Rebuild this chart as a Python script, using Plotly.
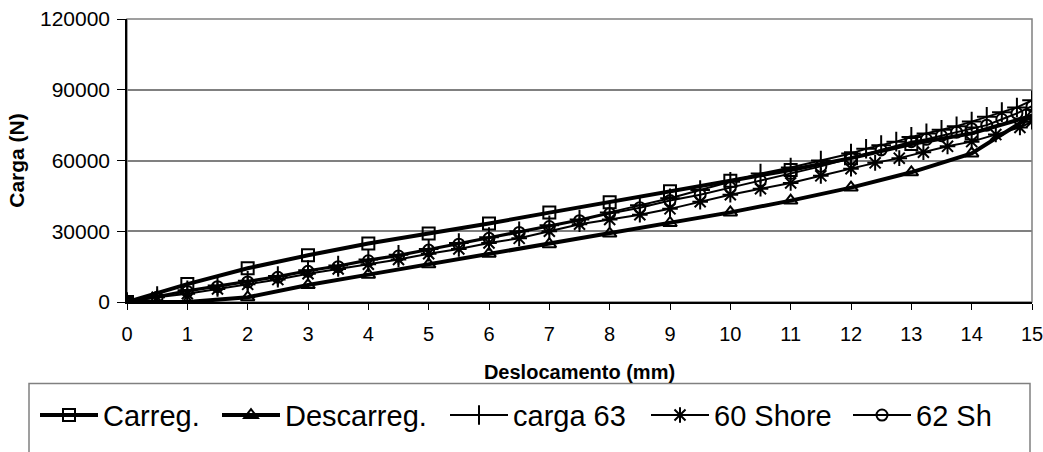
import plotly.graph_objects as go

# Data
x_carreg = [0, 1, 2, 3, 4, 5, 6, 7, 8, 9, 10, 11, 12, 13, 14, 15]
y_carreg = [0, 7600, 14300, 19800, 24800, 29000, 33300, 37900, 42300, 47000, 51400, 56000, 61000, 67000, 71500, 79000]

x_descarreg = [0, 1, 2, 3, 4, 5, 6, 7, 8, 9, 10, 11, 12, 13, 14, 15]
y_descarreg = [0, 0, 2000, 7200, 11600, 16000, 20500, 24500, 29000, 33500, 38000, 43000, 48500, 55000, 63000, 79000]

x_carga63 = [0, 0.5, 1, 1.5, 2, 2.5, 3, 3.5, 4, 4.5, 5, 5.5, 6, 6.5, 7, 7.5, 8, 8.5, 9, 9.5,
             10, 10.5, 11, 11.5, 12, 12.25, 12.5, 12.75, 13, 13.25, 13.5, 13.75, 14, 14.25, 14.5, 14.75, 15]
y_carga63 = [0, 2500, 5000, 7000, 9000, 11000, 13500, 15500, 18000, 20000, 22500, 25000, 27500, 30000,
             32500, 35000, 38000, 41000, 44000, 47500, 51000, 54500, 57000, 60000, 63000, 65000, 66500,
             68000, 70000, 71500, 73000, 74500, 76500, 78500, 80500, 82500, 85500]

x_60shore = [0, 0.5, 1, 1.5, 2, 2.5, 3, 3.5, 4, 4.5, 5, 5.5, 6, 6.5, 7, 7.5, 8, 8.5, 9, 9.5,
             10, 10.5, 11, 11.5, 12, 12.4, 12.8, 13.2, 13.6, 14, 14.4, 14.8, 15]
y_60shore = [0, 2000, 3500, 5500, 7500, 9500, 12000, 14000, 16000, 18000, 20500, 22500, 25000, 27000,
             30000, 33000, 35000, 37000, 39500, 42500, 45500, 48000, 50500, 53500, 56500, 59000, 61000,
             63500, 66000, 68000, 71000, 74000, 76500]

x_62sh = [0, 0.5, 1, 1.5, 2, 2.5, 3, 3.5, 4, 4.5, 5, 5.5, 6, 6.5, 7, 7.5, 8, 8.5, 9, 9.5,
          10, 10.5, 11, 11.5, 12, 12.5, 13, 13.25, 13.5, 13.75, 14, 14.25, 14.5, 14.75, 15]
y_62sh = [0, 2000, 4500, 6500, 8500, 10500, 13000, 15000, 17500, 19500, 22000, 24500, 27000, 29500,
          32000, 34500, 37500, 40000, 43000, 45500, 48500, 51500, 54500, 57500, 61000, 64500, 68000,
          69000, 70500, 72000, 73500, 75000, 77500, 80000, 83000]

FONT = "Liberation Sans, Arial, sans-serif"
ML, MR, MT, MB, W, H = 127, 11, 19, 148, 1043, 452
PW = W - ML - MR
PH = H - MT - MB


def px_x(p):
    return (p - ML) / PW


def px_y(p):
    return (H - MB - p) / PH


fig = go.Figure()
fig.add_trace(go.Scatter(x=x_carreg, y=y_carreg, name="Carreg.", mode="lines+markers", legend="legend",
                         line=dict(color="black", width=4),
                         marker=dict(symbol="square-open", size=12, color="black", line=dict(width=2))))
fig.add_trace(go.Scatter(x=x_descarreg, y=y_descarreg, name="Descarreg.", mode="lines+markers", legend="legend2",
                         line=dict(color="black", width=4),
                         marker=dict(symbol="triangle-up-open", size=12, color="black", line=dict(width=2))))
fig.add_trace(go.Scatter(x=x_carga63, y=y_carga63, name="carga 63", mode="lines+markers", legend="legend3",
                         line=dict(color="black", width=2),
                         marker=dict(symbol="cross-thin-open", size=14, color="black", line=dict(width=2))))
fig.add_trace(go.Scatter(x=x_60shore, y=y_60shore, name="60 Shore", mode="lines+markers", legend="legend4",
                         line=dict(color="black", width=2),
                         marker=dict(symbol="asterisk-open", size=13, color="black", line=dict(width=2))))
fig.add_trace(go.Scatter(x=x_62sh, y=y_62sh, name="62 Sh", mode="lines+markers", legend="legend5",
                         line=dict(color="black", width=2),
                         marker=dict(symbol="circle-open", size=11, color="black", line=dict(width=2))))

# plot area border (gray) and legend box
fig.add_shape(type="rect", xref="paper", yref="paper", x0=0, x1=1, y0=0, y1=1,
              line=dict(color="#808080", width=1.5), layer="below")
fig.add_shape(type="rect", xref="paper", yref="paper", x0=px_x(29), x1=px_x(1030), y0=px_y(386), y1=px_y(470),
              line=dict(color="#808080", width=1.5), fillcolor="white", layer="below")

legend_starts = [41, 223, 451, 652, 854]
legend_common = dict(orientation="h", xanchor="left", y=px_y(418), yanchor="middle",
                     font=dict(size=29, family=FONT), bgcolor="rgba(0,0,0,0)", borderwidth=0,
                     itemwidth=58)
layout_legends = {}
for i, s in enumerate(legend_starts):
    key = "legend" if i == 0 else f"legend{i + 1}"
    layout_legends[key] = dict(x=px_x(s - 6), **legend_common)

fig.update_layout(
    width=W, height=H,
    margin=dict(l=ML, r=MR, t=MT, b=MB),
    paper_bgcolor="white", plot_bgcolor="white",
    font=dict(family=FONT, color="black", size=20),
    showlegend=True,
    xaxis=dict(range=[0, 15], dtick=1, tick0=0, showgrid=False, zeroline=False,
               showline=True, linecolor="black", linewidth=1.5, automargin=False,
               ticks="outside", ticklen=6, tickcolor="black", tickfont=dict(size=20),
               ticklabelstandoff=7, ticklabeloverflow="allow",
               title=dict(text="<b>Deslocamento (mm)</b>", font=dict(size=20), standoff=21)),
    yaxis=dict(range=[0, 120000], dtick=30000, tick0=0, tickformat="d",
               showgrid=True, gridcolor="#808080", gridwidth=1.5, zeroline=False,
               showline=True, linecolor="black", linewidth=1.5, automargin=False,
               ticks="outside", ticklen=8, tickcolor="black", tickfont=dict(size=21),
               ticklabelstandoff=3,
               title=dict(text="<b>Carga (N)</b>", font=dict(size=21), standoff=10)),
    **layout_legends,
)

fig.write_html("out.html")
